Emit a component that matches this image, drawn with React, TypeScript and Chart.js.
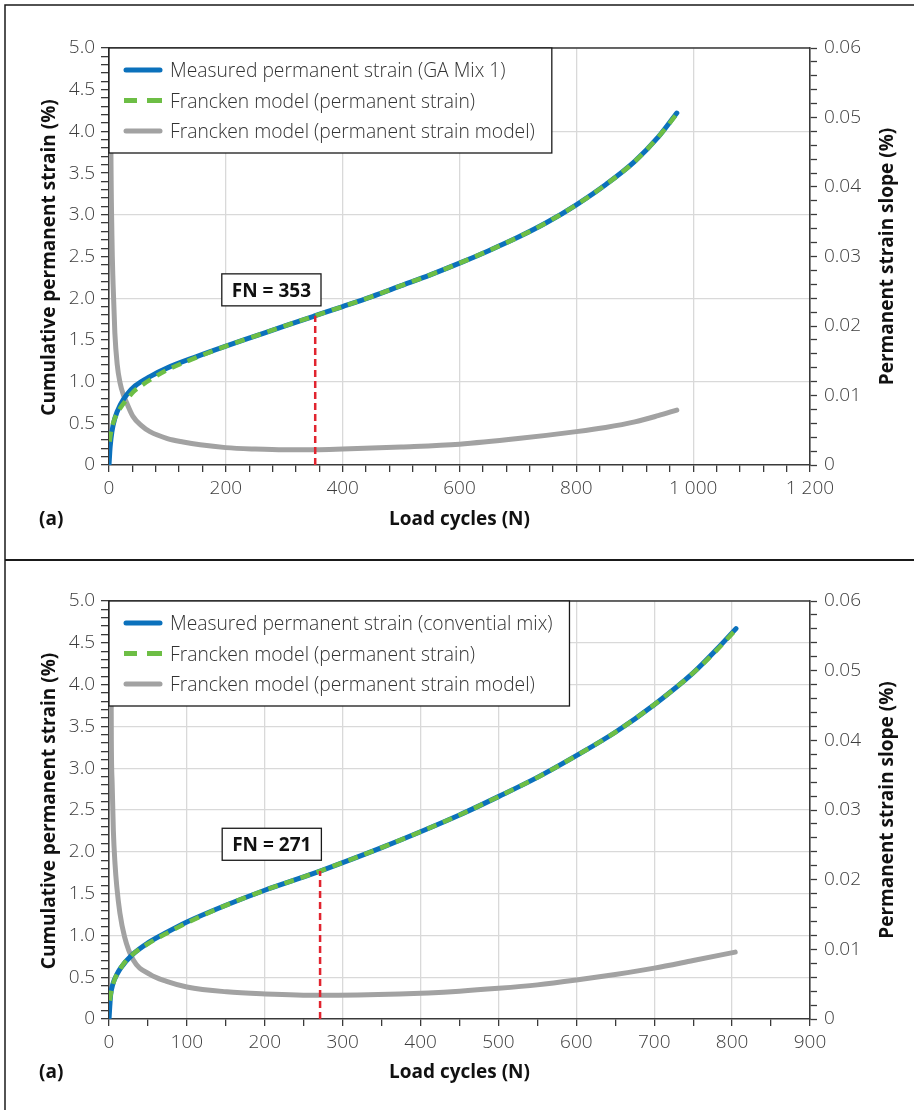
import React, { useEffect, useRef } from "react";
import { Chart, registerables } from "chart.js";
Chart.register(...registerables);

// ---------------- Panel 1 : GA Mix 1 ----------------
const gaCyclesMeasured = [0, 1, 2, 5, 10, 20, 30, 45, 70, 100, 150, 200, 250, 300, 353, 400, 450, 500, 550, 600, 650, 700, 750, 800, 850, 900, 940, 972];
const gaStrainMeasured = [0, 0.12, 0.22, 0.4, 0.56, 0.73, 0.84, 0.95, 1.06, 1.165, 1.3, 1.425, 1.545, 1.665, 1.79, 1.9, 2.02, 2.15, 2.28, 2.42, 2.57, 2.73, 2.91, 3.12, 3.36, 3.64, 3.93, 4.22];
const gaCyclesModel = [1, 3, 5, 10, 20, 30, 42, 55, 70, 100, 150, 200, 250, 300, 353, 400, 450, 500, 550, 600, 650, 700, 750, 800, 850, 900, 940, 972];
const gaStrainModel = [0.28, 0.38, 0.45, 0.56, 0.69, 0.78, 0.88, 0.95, 1.02, 1.14, 1.29, 1.425, 1.545, 1.665, 1.79, 1.9, 2.02, 2.15, 2.28, 2.42, 2.57, 2.73, 2.91, 3.12, 3.36, 3.64, 3.93, 4.21];
const gaCyclesSlope = [2, 3, 5, 7, 10, 14, 19, 25, 30, 41, 55, 70, 100, 127, 156, 200, 250, 300, 353, 400, 500, 600, 700, 800, 850, 900, 940, 972];
const gaSlope = [0.08, 0.05, 0.033, 0.026, 0.019, 0.0145, 0.0118, 0.01, 0.009, 0.007, 0.0057, 0.0048, 0.0038, 0.0033, 0.0029, 0.0025, 0.0023, 0.0022, 0.0022, 0.0023, 0.0026, 0.003, 0.0038, 0.0048, 0.0054, 0.0062, 0.0071, 0.0079];
const gaFN = 353;
const gaStrainAtFN = 1.79;
const gaFNLabelAt = [278, 2.1];
const gaFNText = "FN = 353";
const gaLegend = [
  "Measured permanent strain (GA Mix 1)",
  "Francken model (permanent strain)",
  "Francken model (permanent strain model)",
];
const gaXTickLabels = ["0", "200", "400", "600", "800", "1 000", "1 200"];

// ---------------- Panel 2 : conventional mix ----------------
const cvCyclesMeasured = [0, 1, 2, 5, 10, 15, 30, 50, 75, 100, 150, 200, 250, 271, 300, 350, 400, 450, 500, 550, 600, 650, 700, 750, 780, 805];
const cvStrainMeasured = [0, 0.15, 0.28, 0.42, 0.53, 0.61, 0.77, 0.91, 1.04, 1.16, 1.36, 1.54, 1.7, 1.77, 1.87, 2.05, 2.24, 2.44, 2.66, 2.89, 3.15, 3.43, 3.76, 4.14, 4.42, 4.67];
const cvCyclesModel = [1, 3, 6, 15, 30, 50, 75, 100, 150, 200, 250, 271, 300, 350, 400, 450, 500, 550, 600, 650, 700, 750, 780, 805];
const cvStrainModel = [0.22, 0.33, 0.44, 0.61, 0.77, 0.9, 1.03, 1.15, 1.36, 1.54, 1.7, 1.77, 1.87, 2.05, 2.24, 2.44, 2.66, 2.89, 3.15, 3.43, 3.76, 4.14, 4.41, 4.66];
const cvCyclesSlope = [2, 3, 4, 5.6, 7.7, 10, 14, 20, 31, 52.6, 74, 100, 151, 201, 271, 373, 450, 500, 550, 600, 650, 700, 750, 804];
const cvSlope = [0.07, 0.04, 0.034, 0.027, 0.0223, 0.019, 0.0152, 0.0118, 0.0085, 0.0064, 0.0054, 0.0046, 0.0039, 0.0036, 0.0034, 0.0036, 0.004, 0.0044, 0.0049, 0.0056, 0.0064, 0.0073, 0.0084, 0.0096];
const cvFN = 271;
const cvStrainAtFN = 1.77;
const cvFNLabelAt = [209, 2.09];
const cvFNText = "FN = 271";
const cvLegend = [
  "Measured permanent strain (convential mix)",
  "Francken model (permanent strain)",
  "Francken model (permanent strain model)",
];
const cvXTickLabels = ["0", "100", "200", "300", "400", "500", "600", "700", "800", "900"];

// ---------------- shared axis labels ----------------
const leftTickLabels = ["0", "0.5", "1.0", "1.5", "2.0", "2.5", "3.0", "3.5", "4.0", "4.5", "5.0"];
const rightTickLabels = ["0", "0.01", "0.02", "0.03", "0.04", "0.05", "0.06"];
const xTitle = "Load cycles (N)";
const leftTitle = "Cumulative permanent strain (%)";
const rightTitle = "Permanent strain slope (%)";
const panelTag = "(a)";

const BLUE = "#0b71bc";
const GREEN = "#6dbe45";
const GRAY = "#a2a2a2";
const RED = "#e1242f";
const GRID = "#d9d9d9";
const AXIS = "#3a3a3a";
const TICKTXT = "#3c3c3c";
const FONT = '"Open Sans", sans-serif';

type Panel = {
  first: boolean;
  height: number;
  topPad: number;
  bottomH: number;
  xMax: number;
  xStep: number;
  xLabelEvery: number;
  xGridEvery: number;
  yGridEvery: number;
  xTickLabels: string[];
  cm: number[]; sm: number[];
  cmod: number[]; smod: number[];
  cs: number[]; ss: number[];
  fn: number; fnStrain: number; fnLabelAt: number[]; fnText: string;
  legend: string[];
  xTitleBaseline: number;
};

const pts = (xs: number[], ys: number[]) => xs.map((x, i) => ({ x, y: ys[i] }));

function decorPlugin(p: Panel) {
  return {
    id: "decor",
    afterDraw(chart: any) {
      const ctx: CanvasRenderingContext2D = chart.ctx;
      const a = chart.chartArea;
      const xs = chart.scales.x;
      const ys = chart.scales.y;
      const W = chart.width;
      const H = chart.height;
      ctx.save();
      // panel frame
      ctx.strokeStyle = "#1a1a1a";
      ctx.lineWidth = 1.5;
      ctx.beginPath();
      if (p.first) {
        ctx.moveTo(5, H);
        ctx.lineTo(5, 5);
        ctx.lineTo(W, 5);
      } else {
        ctx.moveTo(5, 0);
        ctx.lineTo(5, H);
      }
      ctx.stroke();
      if (!p.first) {
        ctx.lineWidth = 2;
        ctx.beginPath();
        ctx.moveTo(5, 1);
        ctx.lineTo(W, 1);
        ctx.stroke();
      }
      // plot top border
      ctx.strokeStyle = AXIS;
      ctx.lineWidth = 1.5;
      ctx.beginPath();
      ctx.moveTo(a.left, a.top);
      ctx.lineTo(a.right, a.top);
      ctx.stroke();

      // axis titles
      ctx.fillStyle = "#111";
      ctx.font = `700 19px ${FONT}`;
      ctx.textBaseline = "alphabetic";
      ctx.textAlign = "center";
      ctx.fillText(xTitle, (a.left + a.right) / 2, p.xTitleBaseline);
      ctx.textAlign = "left";
      ctx.fillText(panelTag, 39, p.xTitleBaseline);
      const midY = (a.top + a.bottom) / 2 + 1;
      const rot = (t: string, x: number, y: number) => {
        ctx.save();
        ctx.translate(x, y);
        ctx.rotate(-Math.PI / 2);
        ctx.textAlign = "center";
        ctx.fillText(t, 0, 0);
        ctx.restore();
      };
      rot(leftTitle, 55, midY);
      rot(rightTitle, 893, midY - 1);

      // FN label box
      ctx.font = `700 19px ${FONT}`;
      const fx = xs.getPixelForValue(p.fnLabelAt[0]);
      const fy = ys.getPixelForValue(p.fnLabelAt[1]);
      const tw = ctx.measureText(p.fnText).width;
      const bw = tw + 20;
      const bh = 32;
      ctx.fillStyle = "#fff";
      ctx.fillRect(fx - bw / 2, fy - bh / 2, bw, bh);
      ctx.strokeStyle = "#1a1a1a";
      ctx.lineWidth = 1.3;
      ctx.strokeRect(fx - bw / 2, fy - bh / 2, bw, bh);
      ctx.fillStyle = "#111";
      ctx.textAlign = "center";
      ctx.fillText(p.fnText, fx, fy + 7);

      // legend
      ctx.font = `300 19.3px ${FONT}`;
      let maxW = 0;
      p.legend.forEach((t) => (maxW = Math.max(maxW, ctx.measureText(t).width)));
      const L = a.left;
      const T = a.top;
      const boxR = L + 61 + maxW + 17;
      const boxB = T + 105;
      ctx.fillStyle = "#fff";
      ctx.fillRect(L, T, boxR - L, boxB - T);
      ctx.strokeStyle = "#1a1a1a";
      ctx.lineWidth = 1.3;
      ctx.strokeRect(L, T, boxR - L, boxB - T);
      const rows = [T + 22, T + 52.5, T + 83];
      const sample = (y: number, color: string) => {
        ctx.save();
        ctx.strokeStyle = color;
        ctx.lineWidth = 5;
        ctx.lineCap = "round";
        ctx.beginPath();
        ctx.moveTo(L + 17, y);
        ctx.lineTo(L + 51, y);
        ctx.stroke();
        ctx.restore();
      };
      sample(rows[0], BLUE);
      ctx.save();
      ctx.strokeStyle = GREEN;
      ctx.lineWidth = 5;
      ctx.beginPath();
      ctx.moveTo(L + 15, rows[1]);
      ctx.lineTo(L + 28, rows[1]);
      ctx.moveTo(L + 38, rows[1]);
      ctx.lineTo(L + 53, rows[1]);
      ctx.stroke();
      ctx.restore();
      sample(rows[2], GRAY);
      ctx.fillStyle = "#333";
      ctx.textAlign = "left";
      p.legend.forEach((t, i) => ctx.fillText(t, L + 61, rows[i] + 7));
      ctx.restore();
    },
  };
}

function makeConfig(p: Panel): any {
  const tickFont = { family: FONT, size: 19, weight: "300" };
  return {
    type: "line",
    data: {
      datasets: [
        {
          data: pts([p.fn, p.fn], [0, p.fnStrain]),
          borderColor: RED,
          borderWidth: 2.5,
          borderDash: [7, 4],
          pointRadius: 0,
          yAxisID: "y",
          order: 0,
        },
        {
          data: pts(p.cmod, p.smod),
          borderColor: GREEN,
          borderWidth: 4.5,
          borderDash: [10, 7],
          pointRadius: 0,
          cubicInterpolationMode: "monotone",
          yAxisID: "y",
          order: 1,
        },
        {
          data: pts(p.cm, p.sm),
          borderColor: BLUE,
          borderWidth: 5,
          borderCapStyle: "round",
          pointRadius: 0,
          cubicInterpolationMode: "monotone",
          yAxisID: "y",
          order: 2,
        },
        {
          data: pts(p.cs, p.ss),
          borderColor: GRAY,
          borderWidth: 5,
          borderCapStyle: "round",
          pointRadius: 0,
          cubicInterpolationMode: "monotone",
          yAxisID: "y1",
          order: 3,
        },
      ],
    },
    options: {
      animation: false,
      responsive: false,
      maintainAspectRatio: false,
      events: [],
      layout: { padding: { top: p.topPad, left: 0, right: 0, bottom: 0 } },
      plugins: { legend: { display: false }, tooltip: { enabled: false } },
      scales: {
        x: {
          type: "linear",
          min: 0,
          max: p.xMax,
          ticks: {
            stepSize: p.xStep,
            autoSkip: false,
            maxRotation: 0,
            minRotation: 0,
            padding: 5,
            color: TICKTXT,
            font: tickFont,
            callback: (v: number) => {
              const r = Math.round(v);
              return r % p.xLabelEvery === 0 ? p.xTickLabels[r / p.xLabelEvery] : "";
            },
          },
          grid: {
            color: (c: any) => {
              const v = c.tick ? Math.round(c.tick.value) : -1;
              return v > 0 && v < p.xMax && v % p.xGridEvery === 0 ? GRID : "rgba(0,0,0,0)";
            },
            lineWidth: 1.3,
            tickColor: AXIS,
            tickLength: 7,
            tickWidth: 1.3,
          },
          border: { color: AXIS, width: 1.6 },
          afterFit: (s: any) => {
            s.height = p.bottomH;
          },
        },
        y: {
          type: "linear",
          position: "left",
          min: 0,
          max: 5,
          ticks: {
            stepSize: 0.1,
            autoSkip: false,
            padding: 6,
            color: TICKTXT,
            font: tickFont,
            callback: (v: number) => {
              const k = Math.round(v * 10);
              return k % 5 === 0 ? leftTickLabels[k / 5] : "";
            },
          },
          grid: {
            color: (c: any) => {
              const k = c.tick ? Math.round(c.tick.value * 10) : -1;
              return k > 0 && k % p.yGridEvery === 0 ? GRID : "rgba(0,0,0,0)";
            },
            lineWidth: 1.3,
            tickColor: AXIS,
            tickLength: 8,
            tickWidth: 1.3,
          },
          border: { color: AXIS, width: 1.6 },
          afterFit: (s: any) => {
            s.width = 109;
          },
        },
        y1: {
          type: "linear",
          position: "right",
          min: 0,
          max: 0.06,
          ticks: {
            stepSize: 0.002,
            autoSkip: false,
            padding: 7,
            color: TICKTXT,
            font: tickFont,
            callback: (v: number) => {
              const k = Math.round(v * 1000);
              return k % 10 === 0 ? rightTickLabels[k / 10] : "";
            },
          },
          grid: {
            drawOnChartArea: false,
            tickColor: AXIS,
            tickLength: 7,
            tickWidth: 1.3,
          },
          border: { color: AXIS, width: 1.6 },
          afterFit: (s: any) => {
            s.width = 104;
          },
        },
      },
    },
    plugins: [decorPlugin(p)],
  };
}

const panels: Panel[] = [
  {
    first: true,
    height: 559,
    topPad: 48,
    bottomH: 94,
    xMax: 1200,
    xStep: 40,
    xLabelEvery: 200,
    xGridEvery: 200,
    yGridEvery: 10,
    xTickLabels: gaXTickLabels,
    cm: gaCyclesMeasured, sm: gaStrainMeasured,
    cmod: gaCyclesModel, smod: gaStrainModel,
    cs: gaCyclesSlope, ss: gaSlope,
    fn: gaFN, fnStrain: gaStrainAtFN, fnLabelAt: gaFNLabelAt, fnText: gaFNText,
    legend: gaLegend,
    xTitleBaseline: 525,
  },
  {
    first: false,
    height: 551,
    topPad: 42,
    bottomH: 91,
    xMax: 900,
    xStep: 50,
    xLabelEvery: 100,
    xGridEvery: 100,
    yGridEvery: 5,
    xTickLabels: cvXTickLabels,
    cm: cvCyclesMeasured, sm: cvStrainMeasured,
    cmod: cvCyclesModel, smod: cvStrainModel,
    cs: cvCyclesSlope, ss: cvSlope,
    fn: cvFN, fnStrain: cvStrainAtFN, fnLabelAt: cvFNLabelAt, fnText: cvFNText,
    legend: cvLegend,
    xTitleBaseline: 519,
  },
];

function ChartPanel({ p, top }: { p: Panel; top: number }) {
  const ref = useRef<HTMLCanvasElement | null>(null);
  useEffect(() => {
    if (!ref.current) return;
    const chart = new Chart(ref.current, makeConfig(p));
    return () => chart.destroy();
  }, [p]);
  return (
    <canvas
      ref={ref}
      width={914}
      height={p.height}
      style={{ position: "absolute", left: 0, top, width: 914, height: p.height, display: "block" }}
    />
  );
}

export default function App() {
  return (
    <div style={{ position: "absolute", left: 0, top: 0, width: 914, height: 1110, background: "#fff", overflow: "hidden" }}>
      <ChartPanel p={panels[0]} top={0} />
      <ChartPanel p={panels[1]} top={559} />
    </div>
  );
}
